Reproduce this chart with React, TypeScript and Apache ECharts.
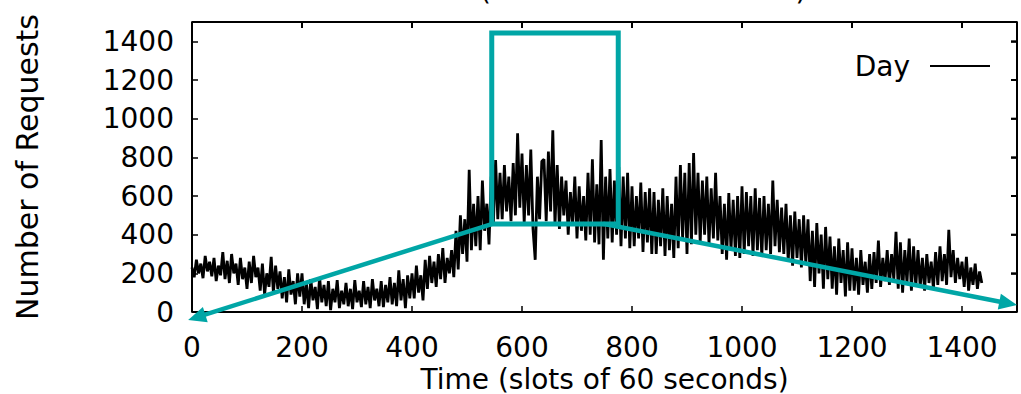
import React, { useEffect, useRef } from "react";
import * as echarts from "echarts";

// ---- data ----
const slotStep = 4; // one sample every 4 slots of 60 seconds
const requests: number[] = [
  230, 180, 270, 200, 250, 175, 290, 210, 260, 185,
  280, 160, 240, 190, 310, 170, 265, 150, 300, 200,
  250, 140, 280, 170, 230, 120, 260, 150, 290, 180,
  230, 110, 250, 90, 200, 130, 285, 100, 240, 120,
  210, 70, 180, 50, 220, 90, 160, 40, 200, 80,
  200, 40, 150, 20, 170, 60, 130, 15, 180, 50,
  140, 30, 160, 10, 120, 50, 165, 20, 110, 40,
  150, 30, 120, 15, 165, 50, 110, 25, 160, 40,
  130, 20, 170, 60, 120, 30, 160, 25, 140, 50,
  180, 40, 150, 30, 215, 60, 170, 20, 190, 70,
  200, 70, 240, 100, 190, 60, 270, 120, 290, 150,
  260, 130, 300, 170, 330, 150, 280, 200, 320, 180,
  420, 220, 500, 300, 480, 260, 735, 320, 560, 340,
  600, 320, 680, 420, 560, 350, 700, 460, 786, 480,
  720, 480, 760, 520, 700, 470, 770, 500, 925, 540,
  820, 460, 760, 500, 840, 430, 270, 700, 480, 780,
  790, 470, 830, 520, 940, 450, 760, 430, 700, 500,
  680, 400, 620, 450, 700, 380, 650, 420, 600, 370,
  720, 400, 790, 360, 660, 350, 890, 270, 700, 380,
  740, 360, 680, 400, 750, 340, 700, 380, 720, 330,
  650, 340, 600, 380, 670, 310, 620, 360, 640, 300,
  620, 300, 580, 340, 640, 290, 600, 320, 560, 280,
  700, 330, 760, 380, 720, 300, 770, 350, 822, 400,
  720, 360, 680, 400, 700, 350, 640, 380, 720, 370,
  600, 300, 560, 270, 615, 320, 580, 290, 600, 280,
  650, 300, 620, 340, 600, 290, 640, 320, 590, 285,
  600, 320, 560, 300, 680, 340, 580, 310, 540, 300,
  560, 260, 500, 240, 520, 280, 480, 230, 500, 250,
  480, 160, 420, 130, 460, 200, 400, 120, 440, 170,
  390, 120, 340, 90, 380, 150, 320, 80, 360, 110,
  330, 110, 280, 90, 320, 140, 260, 100, 300, 120,
  310, 150, 370, 130, 280, 160, 320, 140, 300, 170,
  415, 120, 360, 100, 320, 150, 380, 110, 340, 130,
  320, 130, 280, 110, 300, 150, 260, 120, 310, 140,
  340, 160, 300, 140, 425, 180, 320, 150, 280, 170,
  260, 130, 285, 110, 230, 140, 250, 120, 210, 150,
];
const seriesName = "Day";
const xAxisRange = [0, 1500];
const yAxisRange = [0, 1500];
const tickInterval = 200;
const tickValues = [0, 200, 400, 600, 800, 1000, 1200, 1400];
const xAxisTitle = "Time (slots of 60 seconds)";
const topAxisTitle = "Time (slots of 3600 seconds)";
const yAxisTitle = "Number of Requests";

// teal zoom annotation, in data units (slot, requests)
const zoomBoxX = [545, 775];
const zoomBoxY = [455, 1443];
const leftArrowTip = [-7, -41];
const rightArrowFrom = [750, 455];
const rightArrowTip = [1500, 36];

const FONT = "DejaVu Sans";
const TEAL = "#00a6a6";

export default function App() {
  const ref = useRef<HTMLDivElement>(null);

  useEffect(() => {
    if (!ref.current) return;
    const chart = echarts.init(ref.current, undefined, { renderer: "svg" });

    const seriesData = requests.map((v, i) => [i * slotStep, v]);
    const plain = (v: number) => String(v);

    const baseAxis = {
      type: "value" as const,
      interval: tickInterval,
      splitLine: { show: false },
      axisLine: { show: true, onZero: false, lineStyle: { color: "#000", width: 1.5 } },
      axisTick: { show: true, inside: true, length: 6, lineStyle: { color: "#000", width: 1.5 } },
    };

    chart.setOption({
      animation: false,
      backgroundColor: "#fff",
      textStyle: { fontFamily: FONT },
      grid: { left: 192, right: 4, top: 22, bottom: 82, containLabel: false, outerBoundsMode: "none" },
      legend: {
        data: [{ name: seriesName, icon: "rect" }],
        right: 31,
        top: 52,
        align: "right",
        padding: 0,
        itemWidth: 60,
        itemHeight: 2,
        itemStyle: { color: "#000" },
        textStyle: { fontFamily: FONT, fontSize: 28, color: "#000", padding: [0, 15, 0, 0] },
      },
      xAxis: [
        {
          ...baseAxis,
          position: "bottom",
          min: xAxisRange[0],
          max: xAxisRange[1],
          name: xAxisTitle,
          nameLocation: "middle",
          nameGap: 52,
          nameTextStyle: { fontFamily: FONT, fontSize: 28, color: "#000" },
          axisLabel: { show: true, showMaxLabel: false, formatter: plain, margin: 21, fontFamily: FONT, fontSize: 28, color: "#000" },
        },
        {
          ...baseAxis,
          position: "top",
          min: xAxisRange[0],
          max: xAxisRange[1],
          name: topAxisTitle,
          nameLocation: "middle",
          nameGap: 18,
          nameTextStyle: { fontFamily: FONT, fontSize: 28, color: "#000" },
          axisLabel: { show: false },
        },
      ],
      yAxis: [
        {
          ...baseAxis,
          position: "left",
          min: yAxisRange[0],
          max: yAxisRange[1],
          name: yAxisTitle,
          nameLocation: "middle",
          nameGap: 150,
          nameTextStyle: { fontFamily: FONT, fontSize: 30, color: "#000" },
          axisLabel: { show: true, showMaxLabel: false, formatter: plain, margin: 18, fontFamily: FONT, fontSize: 28, color: "#000" },
        },
        {
          ...baseAxis,
          position: "right",
          min: yAxisRange[0],
          max: yAxisRange[1],
          axisLabel: { show: false },
        },
      ],
      series: [
        {
          name: seriesName,
          type: "line",
          xAxisIndex: 0,
          yAxisIndex: 0,
          data: seriesData,
          symbol: "none",
          showSymbol: false,
          lineStyle: { color: "#000", width: 2.8 },
          itemStyle: { color: "#000" },
          z: 2,
        },
      ],
    });

    const px = (v: number[]) => chart.convertToPixel({ gridIndex: 0 }, v) as number[];

    // plot frame and mirrored ticks on the top and right sides
    const frameTL = px([xAxisRange[0], yAxisRange[1]]);
    const frameBR = px([xAxisRange[1], yAxisRange[0]]);
    const x0 = frameTL[0];
    const y0 = frameTL[1];
    const x1 = frameBR[0];
    const y1 = frameBR[1];
    const frameLines: number[][] = [
      [x0, y0, x1, y0],
      [x1, y0, x1, y1],
      [x0, y1, x1, y1],
      [x0, y0, x0, y1],
    ];
    tickValues.forEach((t) => {
      const xp = px([t, yAxisRange[1]])[0];
      frameLines.push([xp, y0, xp, y0 + 6]);
      const yp = px([xAxisRange[1], t])[1];
      frameLines.push([x1, yp, x1 - 6, yp]);
    });
    const frameElements = frameLines.map((l) => ({
      type: "line",
      shape: { x1: l[0], y1: l[1], x2: l[2], y2: l[3] },
      style: { stroke: "#000", lineWidth: 2 },
      z: 100,
    }));

    const tl = px([zoomBoxX[0], zoomBoxY[1]]);
    const br = px([zoomBoxX[1], zoomBoxY[0]]);
    const bl = px([zoomBoxX[0], zoomBoxY[0]]);
    const lt = px(leftArrowTip);
    const rf = px(rightArrowFrom);
    const rt = px(rightArrowTip);

    const head = (from: number[], tip: number[]) => {
      const dx = tip[0] - from[0];
      const dy = tip[1] - from[1];
      const len = Math.hypot(dx, dy);
      const ux = dx / len;
      const uy = dy / len;
      const L = 18;
      const W = 8;
      const bx = tip[0] - ux * L;
      const by = tip[1] - uy * L;
      return {
        base: [bx + ux * 2, by + uy * 2],
        poly: [
          [tip[0], tip[1]],
          [bx - uy * W, by + ux * W],
          [bx + uy * W, by - ux * W],
        ],
      };
    };
    const lh = head(bl, lt);
    const rh = head(rf, rt);

    chart.setOption({
      graphic: [
        ...frameElements,
        {
          type: "rect",
          shape: { x: tl[0], y: tl[1], width: br[0] - tl[0], height: br[1] - tl[1] },
          style: { fill: "none", stroke: TEAL, lineWidth: 5 },
          z: 110,
        },
        {
          type: "polyline",
          shape: { points: [lh.base, bl] },
          style: { fill: "none", stroke: TEAL, lineWidth: 4.5 },
          z: 110,
        },
        {
          type: "polyline",
          shape: { points: [[br[0] - 15, rf[1]], rf, rh.base] },
          style: { fill: "none", stroke: TEAL, lineWidth: 4.5 },
          z: 110,
        },
        { type: "polygon", shape: { points: lh.poly }, style: { fill: TEAL }, z: 110 },
        { type: "polygon", shape: { points: rh.poly }, style: { fill: TEAL }, z: 110 },
      ],
    });

    return () => chart.dispose();
  }, []);

  return <div ref={ref} style={{ width: 1021, height: 394, position: "absolute", left: 0, top: 0 }} />;
}
